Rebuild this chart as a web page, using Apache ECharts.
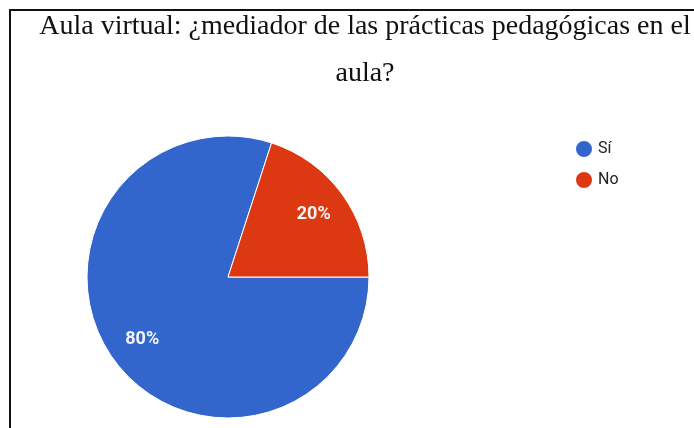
<!DOCTYPE html>
<html>
<head>
<meta charset="utf-8">
<script src="https://cdn.jsdelivr.net/npm/echarts@6/dist/echarts.min.js"></script>
<style>
html,body{margin:0;padding:0;background:#fff;}
#chart{width:694px;height:428px;}
</style>
</head>
<body>
<div id="chart"></div>
<script>
const titleText = 'Aula virtual: ¿mediador de las prácticas pedagógicas en el\naula?';
const categories = ['Sí', 'No'];
const values = [80, 20];
const colors = ['#3366cc', '#dc3912'];

const chart = echarts.init(document.getElementById('chart'), null, {renderer: 'canvas'});
const pieData = categories.map((c, i) => ({name: c, value: values[i], itemStyle: {color: colors[i]}}));
const labelData = categories.map((c, i) => ({name: c, value: values[i]}));

chart.setOption({
  animation: false,
  backgroundColor: '#fff',
  title: {
    text: titleText,
    left: 365,
    top: 3,
    padding: 0,
    textAlign: 'center',
    textStyle: {
      fontFamily: 'Liberation Serif',
      fontWeight: 'normal',
      fontSize: 28,
      color: '#111',
      lineHeight: 47
    }
  },
  graphic: [{
    type: 'rect',
    shape: {x: 10, y: 10, width: 720, height: 440},
    style: {fill: 'none', stroke: '#111', lineWidth: 2},
    silent: true
  }],
  legend: {
    orient: 'vertical',
    left: 569,
    top: 134,
    icon: 'circle',
    itemWidth: 18,
    itemHeight: 18,
    itemGap: 11,
    data: categories,
    textStyle: {fontFamily: 'Roboto', fontSize: 16, color: '#222'}
  },
  series: [{
    type: 'pie',
    center: [228, 277],
    radius: [0, 141],
    startAngle: 0,
    clockwise: true,
    data: pieData,
    label: {show: false},
    labelLine: {show: false},
    itemStyle: {borderColor: '#fff', borderWidth: 1},
    silent: true
  }, {
    type: 'pie',
    center: [228, 277],
    radius: [65, 141],
    startAngle: 0,
    clockwise: true,
    data: labelData,
    itemStyle: {color: 'rgba(0,0,0,0)'},
    label: {
      show: true,
      position: 'inside',
      formatter: '{d}%',
      fontFamily: 'Roboto',
      fontWeight: 'bold',
      fontSize: 18,
      color: '#f4f4f4'
    },
    labelLine: {show: false},
    silent: true
  }]
});
</script>
</body>
</html>
